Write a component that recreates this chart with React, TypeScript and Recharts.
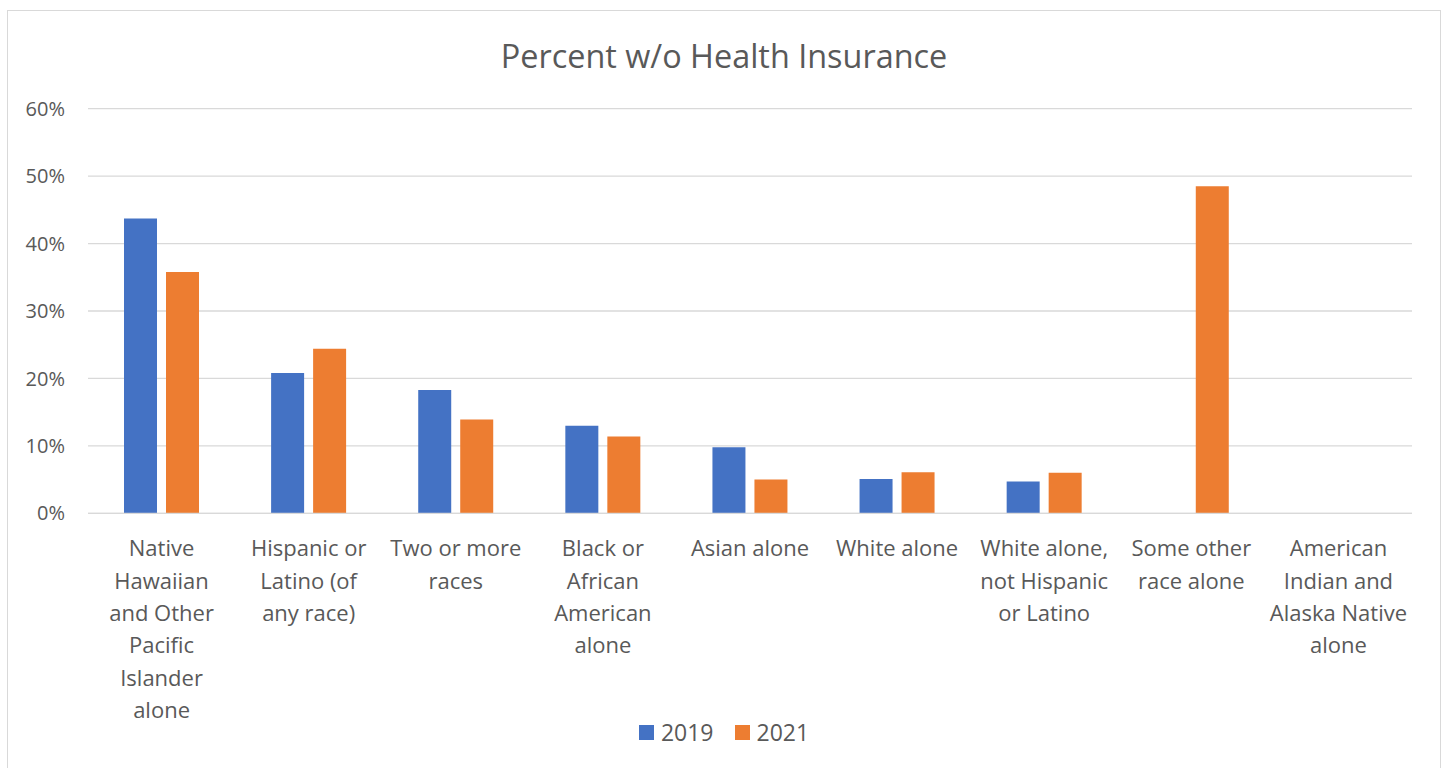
import React from "react";
import { BarChart, Bar, XAxis, YAxis, CartesianGrid, Legend } from "recharts";

// Share of people without health insurance, by race / ethnicity (percent)
const categories: string[] = [
  "Native\nHawaiian\nand Other\nPacific\nIslander\nalone",
  "Hispanic or\nLatino (of\nany race)",
  "Two or more\nraces",
  "Black or\nAfrican\nAmerican\nalone",
  "Asian alone",
  "White alone",
  "White alone,\nnot Hispanic\nor Latino",
  "Some other\nrace alone",
  "American\nIndian and\nAlaska Native\nalone",
];
const values2019: (number | null)[] = [43.7, 20.8, 18.3, 13.0, 9.8, 5.1, 4.7, null, null];
const values2021: (number | null)[] = [35.8, 24.4, 13.9, 11.4, 5.0, 6.1, 6.0, 48.5, null];
const yTicks: number[] = [0, 10, 20, 30, 40, 50, 60];
const seriesNames = ["2019", "2021"];
const seriesColors = ["#4472C4", "#ED7D31"];

const data = categories.map((name, i) => ({
  name,
  y2019: values2019[i],
  y2021: values2021[i],
}));

const FONT = "'Open Sans', 'DejaVu Sans', sans-serif";
const TEXT = "#595959";
const GRID = "#D9D9D9";

const CategoryTick = (props: any) => {
  const { x, y, payload } = props;
  const lines = String(payload.value).split("\n");
  return (
    <g transform={`translate(${x},${y})`}>
      <text textAnchor="middle" fill={TEXT} fontSize={22} fontFamily={FONT}>
        {lines.map((line, i) => (
          <tspan key={i} x={0} dy={i === 0 ? 43 : 32.4}>
            {line}
          </tspan>
        ))}
      </text>
    </g>
  );
};

const LegendContent = () => (
  <div
    style={{
      display: "flex",
      justifyContent: "center",
      alignItems: "center",
      fontFamily: FONT,
      fontSize: 23,
      color: TEXT,
      lineHeight: "30px",
    }}
  >
    {seriesNames.map((n, i) => (
      <div key={n} style={{ display: "flex", alignItems: "center", marginLeft: i ? 21 : 0 }}>
        <span
          style={{
            display: "inline-block",
            width: 15,
            height: 15,
            background: seriesColors[i],
            marginRight: 7,
          }}
        />
        <span>{n}</span>
      </div>
    ))}
  </div>
);

export default function App() {
  return (
    <div>
      <div
        style={{
          position: "absolute",
          left: 7,
          top: 10,
          width: 1432,
          height: 758,
          border: `1.5px solid ${GRID}`,
          borderBottom: "none",
          background: "#fff",
        }}
      />
      <div
        style={{
          position: "absolute",
          left: 0,
          top: 33,
          width: 1448,
          textAlign: "center",
          fontFamily: FONT,
          fontSize: 32.4,
          color: TEXT,
          lineHeight: "44px",
        }}
      >
        Percent w/o Health Insurance
      </div>
      <div style={{ position: "absolute", left: 0, top: 0 }}>
        <BarChart
          width={1448}
          height={768}
          data={data}
          margin={{ top: 108.7, right: 36, bottom: 54.7, left: 28 }}
          barGap={9}
          barCategoryGap={36}
        >
          <CartesianGrid vertical={false} stroke={GRID} strokeWidth={1.3} />
          <XAxis
            dataKey="name"
            interval={0}
            height={200}
            tickLine={false}
            tickSize={0}
            tickMargin={0}
            axisLine={{ stroke: GRID, strokeWidth: 1.3 }}
            tick={<CategoryTick />}
          />
          <YAxis
            width={60}
            domain={[0, 60]}
            ticks={yTicks}
            tickFormatter={(v: number) => `${v}%`}
            axisLine={false}
            tickLine={false}
            tickSize={0}
            tickMargin={23}
            tick={{ fill: TEXT, fontSize: 20, fontFamily: FONT }}
          />
          <Legend
            layout="horizontal"
            verticalAlign="middle"
            align="center"
            wrapperStyle={{ top: 717, left: 0, width: 1448 }}
            content={<LegendContent />}
          />
          <Bar dataKey="y2019" name={seriesNames[0]} fill={seriesColors[0]} isAnimationActive={false} />
          <Bar dataKey="y2021" name={seriesNames[1]} fill={seriesColors[1]} isAnimationActive={false} />
        </BarChart>
      </div>
    </div>
  );
}
